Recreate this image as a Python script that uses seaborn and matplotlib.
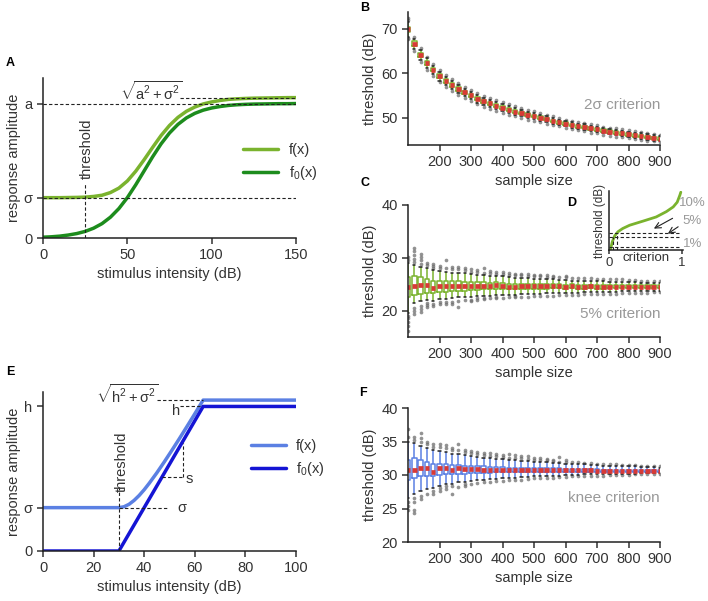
import pandas as pd
import matplotlib
matplotlib.use('Agg')
import matplotlib.pyplot as plt
import seaborn as sns

# ---- panel A: sigmoid response ----
a_x = [0, 5, 10, 15, 20, 25, 30, 35, 40, 45, 50, 55, 60, 65, 70, 75,
       80, 85, 90, 95, 100, 105, 110, 115, 120, 125, 130, 135, 140, 145, 150]
a_f0 = [0.006, 0.009, 0.014, 0.022, 0.033, 0.049, 0.073, 0.107, 0.155, 0.219,
        0.300, 0.396, 0.500, 0.604, 0.700, 0.781, 0.845, 0.893, 0.927, 0.951,
        0.967, 0.978, 0.986, 0.991, 0.994, 0.996, 0.997, 0.998, 0.999, 0.999, 1.0]
a_f = [0.300, 0.300, 0.300, 0.301, 0.302, 0.304, 0.309, 0.318, 0.338, 0.371,
       0.424, 0.497, 0.583, 0.674, 0.762, 0.837, 0.897, 0.942, 0.974, 0.997,
       1.012, 1.023, 1.031, 1.035, 1.038, 1.040, 1.041, 1.042, 1.043, 1.044, 1.044]
a_sigma, a_top, a_noisy_top, a_thresh = 0.3, 1.0, 1.044, 25

# ---- panel E: piecewise linear response ----
e_x0 = [0, 30, 63.3, 100]
e_f0 = [0, 0, 1.0, 1.0]
e_x = [0, 30, 32, 34, 36, 38, 40, 42, 45, 48, 51, 54, 57, 60, 63.3, 100]
e_f = [0.300, 0.300, 0.306, 0.323, 0.350, 0.384, 0.424, 0.469, 0.541, 0.618,
       0.698, 0.780, 0.864, 0.949, 1.044, 1.044]
e_sigma, e_top, e_noisy_top, e_thresh = 0.3, 1.0, 1.044, 30

# ---- panel D inset: threshold vs criterion ----
d_crit = [0.02, 0.046, 0.078, 0.124, 0.19, 0.285, 0.47, 0.65, 0.79, 0.885, 0.94, 0.977, 0.99]
d_thr = [0.01, 0.14, 0.24, 0.31, 0.365, 0.42, 0.49, 0.56, 0.65, 0.73, 0.81, 0.93, 0.98]
d_levels = [0.29, 0.213, 0.045]
d_level_labels = ['10%', '5%', '1%']

# ---- box panels: sample sizes ----
sizes = [100, 120, 140, 160, 180, 200, 220, 240, 260, 280, 300, 320, 340, 360,
         380, 400, 420, 440, 460, 480, 500, 520, 540, 560, 580, 600, 620, 640,
         660, 680, 700, 720, 740, 760, 780, 800, 820, 840, 860, 880, 900]

# B: 2 sigma criterion
b_med = [69.8, 66.6, 64.1, 62.2, 60.8, 59.3, 58.3, 57.3, 56.5, 55.7, 55.0, 54.3, 53.7, 53.2,
         52.7, 52.3, 51.8, 51.4, 51.1, 50.7, 50.4, 50.0, 49.7, 49.3, 49.0, 48.7, 48.4, 48.1,
         47.9, 47.6, 47.4, 47.1, 46.9, 46.7, 46.5, 46.3, 46.1, 45.9, 45.7, 45.5, 45.3]
b_q1 = [69.2, 66.1, 63.6, 61.8, 60.4, 58.9, 57.9, 56.9, 56.1, 55.4, 54.7, 54.0, 53.4, 52.9,
        52.4, 52.0, 51.5, 51.1, 50.8, 50.4, 50.1, 49.7, 49.4, 49.0, 48.7, 48.4, 48.1, 47.8,
        47.6, 47.3, 47.1, 46.8, 46.6, 46.4, 46.2, 46.0, 45.8, 45.6, 45.4, 45.2, 45.0]
b_q3 = [70.4, 67.1, 64.6, 62.7, 61.2, 59.7, 58.7, 57.7, 56.9, 56.0, 55.3, 54.6, 54.0, 53.5,
        53.0, 52.6, 52.1, 51.7, 51.4, 51.0, 50.7, 50.3, 50.0, 49.6, 49.3, 49.0, 48.7, 48.4,
        48.2, 47.9, 47.7, 47.4, 47.2, 47.0, 46.8, 46.6, 46.4, 46.2, 46.0, 45.8, 45.6]
b_wlo = [68.2, 65.4, 63.0, 61.1, 59.8, 58.3, 57.3, 56.4, 55.6, 54.8, 54.1, 53.4, 52.9, 52.4,
         51.9, 51.5, 51.0, 50.7, 50.4, 50.0, 49.7, 49.3, 49.0, 48.7, 48.4, 48.1, 47.8, 47.5,
         47.3, 47.0, 46.8, 46.5, 46.3, 46.1, 45.9, 45.7, 45.5, 45.3, 45.1, 44.9, 44.8]
b_whi = [71.4, 67.6, 65.2, 63.3, 61.7, 60.2, 59.2, 58.2, 57.3, 56.5, 55.8, 55.1, 54.5, 54.0,
         53.5, 53.1, 52.6, 52.2, 51.8, 51.4, 51.1, 50.7, 50.4, 50.0, 49.6, 49.3, 49.0, 48.7,
         48.5, 48.2, 48.0, 47.7, 47.5, 47.3, 47.1, 46.9, 46.7, 46.5, 46.3, 46.1, 45.9]
b_fly = [[67.6, 67.9, 71.9, 72.4], [65.0, 68.0], [62.6, 65.6], [60.7, 63.7], [59.4, 62.1],
         [58.0, 60.6], [56.9, 59.6], [56.0, 58.6], [55.2, 57.7], [54.4, 56.9], [53.7, 56.2],
         [53.0, 55.5], [52.5, 54.9], [52.0, 54.4], [51.5, 53.9], [51.1, 53.5], [50.6, 53.0],
         [50.3, 52.6], [50.0, 52.2], [49.6, 51.8], [49.3, 51.5], [49.0, 51.0], [48.7, 50.7],
         [48.4, 50.3], [48.1, 49.9], [47.8, 49.6], [47.5, 49.3], [47.2, 49.0], [47.0, 48.8],
         [46.7, 48.5], [46.5, 48.3], [46.2, 48.0], [46.0, 47.8], [45.8, 47.6], [45.6, 47.4],
         [45.4, 47.2], [45.2, 47.0], [45.0, 46.8], [44.8, 46.6], [44.7, 46.4], [44.5, 46.2]]

# C: 5% criterion
c_med = [24.4, 24.7, 24.8, 24.8, 24.2, 24.6, 24.7, 24.7, 24.7, 24.7, 24.7, 24.7, 24.7, 24.7,
         24.8, 24.6, 24.5, 24.5, 24.6, 24.6, 24.6, 24.6, 24.6, 24.6, 24.6, 24.5, 24.6, 24.5,
         24.5, 24.6, 24.5, 24.5, 24.5, 24.5, 24.5, 24.5, 24.5, 24.5, 24.5, 24.5, 24.5]
c_q1 = [22.6, 22.9, 23.1, 23.3, 23.3, 23.5, 23.6, 23.7, 23.8, 23.8, 23.9, 23.9, 24.0, 24.0,
        24.0, 24.0, 24.0, 24.0, 24.1, 24.1, 24.1, 24.1, 24.1, 24.2, 24.2, 24.1, 24.2, 24.1,
        24.1, 24.2, 24.1, 24.1, 24.2, 24.2, 24.2, 24.2, 24.2, 24.2, 24.2, 24.2, 24.2]
c_q3 = [26.3, 26.6, 26.3, 26.0, 25.6, 25.7, 25.7, 25.6, 25.6, 25.5, 25.4, 25.4, 25.4, 25.3,
        25.4, 25.2, 25.1, 25.1, 25.1, 25.1, 25.1, 25.0, 25.0, 25.0, 25.0, 24.9, 25.0, 24.9,
        24.9, 24.9, 24.9, 24.9, 24.8, 24.8, 24.8, 24.8, 24.8, 24.8, 24.8, 24.8, 24.8]
c_wlo = [19.5, 21.4, 21.8, 22.0, 21.9, 22.2, 22.2, 22.3, 22.5, 22.6, 22.6, 22.7, 22.8, 22.8,
         22.9, 22.9, 23.0, 23.0, 23.1, 23.1, 23.2, 23.2, 23.3, 23.3, 23.3, 23.4, 23.4, 23.4,
         23.5, 23.5, 23.5, 23.6, 23.6, 23.6, 23.7, 23.7, 23.7, 23.8, 23.8, 23.8, 23.8]
c_whi = [29.0, 28.6, 28.3, 28.0, 27.6, 27.5, 27.4, 27.2, 27.2, 27.1, 26.9, 26.8, 26.7, 26.6,
         26.6, 26.5, 26.3, 26.2, 26.2, 26.1, 26.0, 26.0, 25.9, 25.9, 25.8, 25.8, 25.7, 25.7,
         25.7, 25.6, 25.6, 25.6, 25.5, 25.5, 25.5, 25.4, 25.4, 25.3, 25.3, 25.3, 25.2]
c_fly = [[16.2, 17.0, 17.8, 18.6, 19.0, 29.6, 30.2], [19.4, 19.9, 20.4, 29.2, 29.8, 30.5, 31.2, 31.9],
         [19.8, 20.3, 20.9, 28.9, 29.6, 30.2, 30.8], [20.6, 21.0, 21.4, 28.6, 29.0],
         [20.8, 21.3, 28.1, 28.5, 28.9], [21.2, 21.6, 28.0, 28.5], [21.3, 21.7, 28.0, 29.6],
         [21.3, 21.7, 27.8, 28.3], [20.6, 21.9, 27.8, 28.2], [22.0, 27.6, 28.0],
         [21.8, 22.1, 27.4, 27.9], [22.1, 22.3, 27.3, 27.7], [22.2, 22.4, 27.2, 28.1],
         [22.3, 27.1, 27.5], [22.3, 22.5, 27.0, 27.4], [22.4, 27.0, 27.4], [22.5, 26.8, 27.2],
         [22.5, 22.7, 26.7, 27.0], [22.6, 26.7, 27.0], [22.6, 26.6, 26.9], [22.7, 26.5, 26.8],
         [22.7, 26.5, 26.8], [22.8, 26.4, 26.7], [22.8, 26.4, 26.6], [22.9, 26.3],
         [22.9, 26.3, 26.5], [23.0, 26.2], [23.0, 26.2], [23.1, 26.1], [23.1, 26.1],
         [23.1, 26.0], [23.2, 26.0], [23.2, 25.9], [23.2, 25.9], [23.3, 25.9], [23.3, 25.8],
         [23.4, 25.8], [23.4, 25.7], [23.4, 25.7], [23.5, 25.7], [23.5, 25.6]]

# F: knee criterion
f_med = [30.7, 30.8, 31.0, 31.0, 30.4, 31.0, 31.0, 30.8, 31.0, 30.9, 30.9, 30.9, 30.8, 30.8,
         30.8, 30.8, 30.8, 30.7, 30.8, 30.7, 30.7, 30.7, 30.7, 30.7, 30.7, 30.7, 30.7, 30.7,
         30.7, 30.7, 30.6, 30.6, 30.6, 30.6, 30.6, 30.6, 30.6, 30.6, 30.6, 30.6, 30.6]
f_q1 = [29.2, 29.6, 29.8, 29.8, 29.8, 30.0, 30.1, 30.1, 30.2, 30.2, 30.3, 30.3, 30.3, 30.3,
        30.4, 30.4, 30.4, 30.4, 30.4, 30.4, 30.4, 30.5, 30.5, 30.5, 30.5, 30.5, 30.5, 30.5,
        30.5, 30.5, 30.5, 30.5, 30.5, 30.5, 30.5, 30.5, 30.5, 30.5, 30.5, 30.5, 30.5]
f_q3 = [32.2, 32.5, 32.2, 32.0, 31.7, 31.7, 31.6, 31.5, 31.5, 31.4, 31.4, 31.3, 31.3, 31.2,
        31.2, 31.2, 31.1, 31.1, 31.1, 31.1, 31.0, 31.0, 31.0, 31.0, 31.0, 30.9, 30.9, 30.9,
        30.9, 30.9, 30.9, 30.8, 30.8, 30.8, 30.8, 30.8, 30.8, 30.8, 30.7, 30.7, 30.7]
f_wlo = [26.5, 27.2, 27.6, 27.9, 28.1, 28.3, 28.6, 28.7, 28.9, 29.0, 29.1, 29.2, 29.3, 29.4,
         29.4, 29.5, 29.6, 29.6, 29.7, 29.7, 29.8, 29.8, 29.9, 29.9, 29.9, 30.0, 30.0, 30.0,
         30.1, 30.1, 30.1, 30.1, 30.2, 30.2, 30.2, 30.2, 30.2, 30.3, 30.3, 30.3, 30.3]
f_whi = [35.0, 34.8, 34.4, 34.0, 33.7, 33.6, 33.4, 33.2, 33.1, 33.0, 32.8, 32.7, 32.6, 32.5,
         32.4, 32.4, 32.3, 32.2, 32.1, 32.1, 32.0, 31.9, 31.9, 31.8, 31.8, 31.7, 31.7, 31.6,
         31.6, 31.5, 31.5, 31.4, 31.4, 31.4, 31.3, 31.3, 31.3, 31.2, 31.2, 31.2, 31.1]
f_fly = [[24.8, 25.3, 25.9, 35.6, 36.9], [24.3, 24.8, 26.0, 26.6, 35.2, 35.6],
         [26.4, 26.9, 35.0, 35.5, 36.2], [27.2, 34.6, 35.0], [27.1, 27.6, 34.2, 34.6],
         [27.6, 28.0, 34.2, 34.6], [27.9, 28.3, 34.0, 34.5], [27.2, 28.3, 33.7, 34.1],
         [28.2, 33.7, 34.7], [28.3, 28.6, 33.5, 33.8], [28.6, 33.3, 33.6], [28.8, 33.2, 33.5],
         [28.9, 33.0, 33.3], [29.0, 32.9, 33.3], [29.1, 32.8, 33.2], [29.1, 32.7, 33.0],
         [29.2, 32.6, 33.2], [29.3, 32.6, 33.0], [29.3, 32.5, 32.9], [29.4, 32.4, 32.8],
         [29.5, 32.3, 32.6], [29.5, 32.2, 32.5], [29.6, 32.2, 32.4], [29.6, 32.1, 32.3],
         [29.7, 32.0, 32.7], [29.7, 32.0, 32.2], [29.8, 31.9], [29.8, 31.9], [29.8, 31.8],
         [29.9, 31.8], [29.9, 31.7], [29.9, 31.7], [30.0, 31.6], [30.0, 31.6], [30.0, 31.5],
         [30.0, 31.5], [30.1, 31.5], [30.1, 31.4], [30.1, 31.4], [30.1, 31.4], [30.1, 31.3]]

GREEN_L, GREEN_D = '#7ab32e', '#1d8c1d'
BLUE_L, BLUE_D = '#5b80e3', '#1414d4'
RED = '#d93a36'
GREY_TXT = '#999999'
INK = '#333333'

sns.set_theme(style='ticks')
plt.rcParams['font.family'] = ['Liberation Sans', 'DejaVu Sans']
plt.rcParams.update({
    'font.size': 10.5, 'axes.labelsize': 10.5, 'xtick.labelsize': 10.5, 'ytick.labelsize': 10.5,
    'text.color': INK, 'axes.labelcolor': INK, 'xtick.color': INK, 'ytick.color': INK,
    'axes.edgecolor': '#222222', 'axes.linewidth': 1.1,
    'xtick.major.size': 4, 'ytick.major.size': 4, 'xtick.major.width': 1.1, 'ytick.major.width': 1.1,
    'mathtext.fontset': 'custom', 'mathtext.rm': 'Liberation Sans',
    'mathtext.it': 'Liberation Sans:italic', 'mathtext.default': 'regular',
})

W, H = 708, 601
fig = plt.figure(figsize=(W / 100, H / 100), dpi=100)


def px_axes(x0, y0, x1, y1):
    return fig.add_axes([x0 / W, 1 - y1 / H, (x1 - x0) / W, (y1 - y0) / H])


dash = dict(color='#222222', lw=0.8, ls=(0, (3, 2)))

# ---------------- A ----------------
ax = px_axes(43, 78, 296, 238)
sns.lineplot(x=a_x, y=a_f, ax=ax, color=GREEN_L, lw=2.5, label='f(x)')
sns.lineplot(x=a_x, y=a_f0, ax=ax, color=GREEN_D, lw=2.5, label='f$_0$(x)')
ax.plot([0, 150], [a_top, a_top], **dash)
ax.plot([0, 150], [a_sigma, a_sigma], **dash)
ax.plot([81, 150], [a_noisy_top, a_noisy_top], **dash)
ax.plot([a_thresh, a_thresh], [0, 0.41], **dash)
ax.text(a_thresh + 0.8, 0.44, 'threshold', rotation=90, ha='center', va='bottom')
ax.text(64, 1.09, r'$\sqrt{a^2+\sigma^2}$', ha='center', va='center')
ax.set_xlim(0, 150)
ax.set_ylim(0, 1.19)
ax.set_xticks([0, 50, 100, 150])
ax.set_yticks([0, a_sigma, a_top], ['0', 'σ', 'a'])
ax.set_xlabel('stimulus intensity (dB)', labelpad=3)
ax.set_ylabel('response amplitude', labelpad=2)
ax.legend(loc='center left', bbox_to_anchor=(0.74, 0.47), frameon=False,
          handlelength=2.4, handletextpad=0.7, labelspacing=0.5, fontsize=10.5)
sns.despine(ax=ax)

# ---------------- E ----------------
ax = px_axes(43, 392, 296, 551)
sns.lineplot(x=e_x, y=e_f, ax=ax, color=BLUE_L, lw=2.5, label='f(x)')
sns.lineplot(x=e_x0, y=e_f0, ax=ax, color=BLUE_D, lw=2.5, label='f$_0$(x)')
ax.plot([e_thresh, e_thresh], [0, 0.44], **dash)
ax.text(e_thresh + 1.3, 0.41, 'threshold', rotation=90, ha='center', va='bottom')
ax.plot([e_thresh, 49.5], [e_sigma, e_sigma], **dash)
ax.text(55, e_sigma, 'σ', ha='center', va='center')
ax.plot([45, 63.3], [e_noisy_top, e_noisy_top], **dash)
ax.text(45.5, 1.085, r'$\sqrt{h^2+\sigma^2}$', ha='right', va='center')
ax.plot([54, 62], [e_top, e_top], **dash)
ax.text(52.5, 0.97, 'h', ha='center', va='center')
ax.plot([47, 55.3], [0.51, 0.51], **dash)
ax.plot([55.3, 55.3], [0.51, 0.75], **dash)
ax.text(58, 0.50, 's', ha='center', va='center')
ax.set_xlim(0, 100)
ax.set_ylim(0, 1.10)
ax.set_xticks([0, 20, 40, 60, 80, 100])
ax.set_yticks([0, e_sigma, e_top], ['0', 'σ', 'h'])
ax.set_xlabel('stimulus intensity (dB)', labelpad=3)
ax.set_ylabel('response amplitude', labelpad=2)
ax.legend(loc='center left', bbox_to_anchor=(0.77, 0.58), frameon=False,
          handlelength=2.4, handletextpad=0.7, labelspacing=0.5, fontsize=10.5)
sns.despine(ax=ax)


# ---------------- box panels ----------------
def box_panel(ax, med, q1, q3, wlo, whi, fliers, color):
    rows = []
    for i, n in enumerate(sizes):
        for v in (wlo[i], q1[i], med[i], q3[i], whi[i]):
            rows.append((n, v))
    df = pd.DataFrame(rows, columns=['n', 'v'])
    fx = [n for n, f in zip(sizes, fliers) for _ in f]
    fy = [v for f in fliers for v in f]
    sns.scatterplot(x=fx, y=fy, ax=ax, color='#6e6e6e', s=7, alpha=0.75, linewidth=0, zorder=1)
    sns.boxplot(data=df, x='n', y='v', ax=ax, native_scale=True, whis=(0, 100),
                showfliers=False, fill=False, color=color, width=0.7, linewidth=1.1,
                medianprops=dict(color=RED, linewidth=3.4, solid_capstyle='butt'),
                capprops=dict(color='#222222'))
    ax.set_xlim(100, 900)
    ax.set_xticks([200, 300, 400, 500, 600, 700, 800, 900])
    ax.set_xlabel('sample size', labelpad=3)
    ax.set_ylabel('threshold (dB)', labelpad=3)
    sns.despine(ax=ax)


ax = px_axes(408, 12, 660, 145)
box_panel(ax, b_med, b_q1, b_q3, b_wlo, b_whi, b_fly, GREEN_L)
ax.set_ylim(43.9, 73.7)
ax.set_yticks([50, 60, 70])
ax.text(900, 52.8, '2σ criterion', color=GREY_TXT, ha='right', va='center', fontsize=11)

ax = px_axes(408, 205, 660, 337)
box_panel(ax, c_med, c_q1, c_q3, c_wlo, c_whi, c_fly, GREEN_L)
ax.set_ylim(15, 40)
ax.set_yticks([20, 30, 40])
ax.text(900, 19.4, '5% criterion', color=GREY_TXT, ha='right', va='center', fontsize=11)

ax = px_axes(408, 408, 660, 542)
box_panel(ax, f_med, f_q1, f_q3, f_wlo, f_whi, f_fly, BLUE_L)
ax.set_ylim(20, 40)
ax.set_yticks([20, 25, 30, 35, 40])
ax.text(900, 26.6, 'knee criterion', color=GREY_TXT, ha='right', va='center', fontsize=11)

# ---------------- D inset ----------------
ax = px_axes(609, 191, 683, 250)
sns.lineplot(x=d_crit, y=d_thr, ax=ax, color=GREEN_L, lw=2)
for lvl in d_levels:
    ax.plot([0, 0.97], [lvl, lvl], **dash)
ax.plot([0.05, 0.05], [0, d_levels[1]], **dash)
ax.plot([0.11, 0.11], [0, d_levels[0]], **dash)
ax.annotate('', xy=(0.585, 0.34), xytext=(0.91, 0.56),
            arrowprops=dict(arrowstyle='->', color='#222222', lw=0.8))
ax.annotate('', xy=(0.78, 0.25), xytext=(0.985, 0.42),
            arrowprops=dict(arrowstyle='->', color='#222222', lw=0.8))
for lbl, yy in zip(d_level_labels, [0.79, 0.50, 0.11]):
    ax.text(1.15, yy, lbl, color=GREY_TXT, ha='center', va='center', fontsize=9.5, clip_on=False)
ax.set_xlim(0, 1.02)
ax.set_ylim(0, 1)
ax.set_xticks([0, 1])
ax.set_yticks([])
ax.tick_params(axis='x', labelsize=9.5, length=3, pad=2)
ax.set_xlabel('criterion', fontsize=9.5, labelpad=-12)
ax.set_ylabel('threshold (dB)', fontsize=8.5, labelpad=2)
sns.despine(ax=ax)

# panel letters
for lbl, x, y in [('A', 10, 63), ('B', 365, 8), ('C', 365, 183), ('D', 572, 203),
                  ('E', 10, 372), ('F', 363, 393)]:
    fig.text(x / W, 1 - y / H, lbl, fontsize=9, fontweight='bold', color='black',
             ha='center', va='center')

fig.savefig('out.png', dpi=100)
